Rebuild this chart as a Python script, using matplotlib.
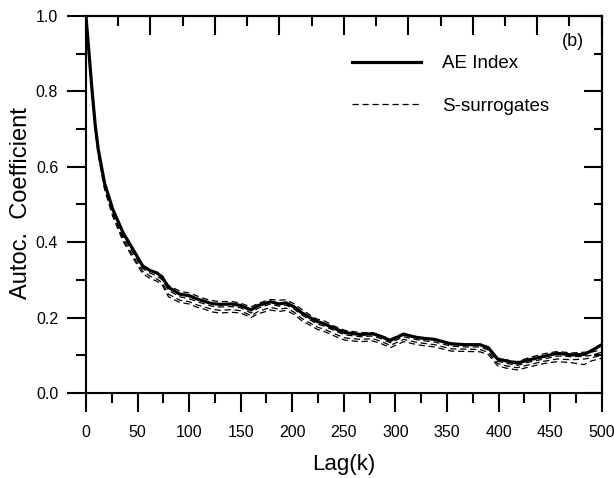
import numpy as np
import matplotlib
matplotlib.use("Agg")
import matplotlib.pyplot as plt
from matplotlib.ticker import MultipleLocator

plt.rcParams['font.family'] = ['Liberation Sans', 'DejaVu Sans']

# lag grid shared by all curves
lags = [0, 3, 6, 9, 12, 18, 26, 36, 46, 55, 62, 69, 74, 80, 91, 100, 107, 115,
        122, 130, 141, 150, 160, 167, 179, 187, 194, 202, 209, 217, 224, 232,
        240, 251, 266, 278, 286, 295, 308, 316, 323, 338, 354, 369, 382, 390,
        399, 407, 418, 430, 444, 457, 471, 483, 490, 500]

ae_index = [1.0, 0.90, 0.80, 0.71, 0.645, 0.557, 0.487, 0.425, 0.379, 0.337,
            0.325, 0.318, 0.307, 0.28, 0.262, 0.258, 0.25, 0.243, 0.237, 0.235,
            0.236, 0.232, 0.22, 0.232, 0.242, 0.236, 0.239, 0.228, 0.213, 0.2,
            0.19, 0.182, 0.172, 0.16, 0.155, 0.157, 0.15, 0.139, 0.156, 0.15,
            0.146, 0.142, 0.13, 0.128, 0.128, 0.12, 0.09, 0.085, 0.079, 0.088,
            0.097, 0.105, 0.101, 0.102, 0.112, 0.128]

surr_1 = [1.0, 0.90, 0.80, 0.71, 0.645, 0.555, 0.485, 0.42, 0.375, 0.336,
          0.324, 0.32, 0.31, 0.285, 0.27, 0.265, 0.258, 0.25, 0.245, 0.242,
          0.243, 0.238, 0.228, 0.238, 0.248, 0.246, 0.247, 0.236, 0.222, 0.207,
          0.196, 0.19, 0.178, 0.166, 0.16, 0.16, 0.152, 0.143, 0.158, 0.152,
          0.148, 0.143, 0.132, 0.13, 0.127, 0.118, 0.092, 0.088, 0.083, 0.094,
          0.104, 0.11, 0.106, 0.108, 0.108, 0.115]

surr_2 = [1.0, 0.898, 0.797, 0.707, 0.64, 0.55, 0.48, 0.415, 0.37, 0.33,
          0.318, 0.31, 0.3, 0.272, 0.255, 0.25, 0.243, 0.236, 0.23, 0.228,
          0.229, 0.226, 0.212, 0.225, 0.236, 0.23, 0.233, 0.222, 0.207, 0.194,
          0.183, 0.176, 0.166, 0.154, 0.149, 0.151, 0.144, 0.133, 0.149, 0.144,
          0.14, 0.135, 0.124, 0.122, 0.122, 0.114, 0.084, 0.079, 0.073, 0.082,
          0.09, 0.098, 0.096, 0.097, 0.1, 0.108]

surr_3 = [1.0, 0.895, 0.793, 0.702, 0.634, 0.545, 0.474, 0.408, 0.362, 0.323,
          0.31, 0.302, 0.292, 0.262, 0.246, 0.242, 0.234, 0.228, 0.222, 0.219,
          0.221, 0.218, 0.205, 0.216, 0.227, 0.222, 0.225, 0.214, 0.198, 0.186,
          0.175, 0.168, 0.158, 0.146, 0.142, 0.144, 0.137, 0.126, 0.142, 0.137,
          0.133, 0.128, 0.117, 0.116, 0.115, 0.108, 0.078, 0.072, 0.067, 0.075,
          0.084, 0.09, 0.088, 0.09, 0.093, 0.1]

surr_4 = [1.0, 0.892, 0.79, 0.698, 0.63, 0.54, 0.468, 0.402, 0.356, 0.316,
          0.304, 0.296, 0.286, 0.255, 0.24, 0.236, 0.228, 0.222, 0.215, 0.212,
          0.214, 0.212, 0.2, 0.21, 0.22, 0.216, 0.219, 0.208, 0.192, 0.18,
          0.169, 0.162, 0.152, 0.14, 0.136, 0.138, 0.131, 0.12, 0.136, 0.131,
          0.127, 0.122, 0.111, 0.11, 0.109, 0.102, 0.072, 0.066, 0.061, 0.069,
          0.078, 0.083, 0.08, 0.075, 0.085, 0.092]

surrogates = [surr_1, surr_2, surr_3, surr_4]

fig = plt.figure(figsize=(6.14, 4.78), dpi=100)
ax = fig.add_axes([0.140, 0.178, 0.840, 0.7885])

for i, s in enumerate(surrogates):
    ax.plot(lags, s, color='black', lw=0.9, ls=(0, (5, 3)),
            label='S-surrogates' if i == 0 else None, zorder=2)
ax.plot(lags, ae_index, color='black', lw=2.3, label='AE Index', zorder=3)

ax.set_xlim(0, 500)
ax.set_ylim(0, 1.0)

for sp in ax.spines.values():
    sp.set_linewidth(1.5)

# bottom / left: outward ticks with labels
ax.xaxis.set_major_locator(MultipleLocator(50))
ax.xaxis.set_minor_locator(MultipleLocator(25))
ax.yaxis.set_major_locator(MultipleLocator(0.2))
ax.yaxis.set_minor_locator(MultipleLocator(0.1))
ax.set_yticks([0, 0.2, 0.4, 0.6, 0.8, 1.0])
ax.set_yticklabels(['0.0', '0.2', '0.4', '0.6', '0.8', '1.0'])
ax.tick_params(axis='both', which='major', direction='out', length=14,
               width=1.5, labelsize=11.5)
ax.tick_params(axis='both', which='minor', direction='out', length=7,
               width=1.5)
ax.tick_params(axis='x', which='major', pad=9)
ax.tick_params(axis='y', which='major', pad=6)

# right: inward ticks, no labels
ry = ax.secondary_yaxis('right')
ry.yaxis.set_major_locator(MultipleLocator(0.2))
ry.yaxis.set_minor_locator(MultipleLocator(0.1))
ry.tick_params(which='major', direction='in', length=13, width=1.5,
               labelright=False)
ry.tick_params(which='minor', direction='in', length=6, width=1.5)
ry.spines['right'].set_linewidth(1.5)

# top: inward ticks on a 62.5 spacing, no labels
tx = ax.secondary_xaxis('top')
tx.xaxis.set_major_locator(MultipleLocator(62.5))
tx.xaxis.set_minor_locator(MultipleLocator(31.25))
tx.tick_params(which='major', direction='in', length=14, width=1.5,
               labeltop=False)
tx.tick_params(which='minor', direction='in', length=7, width=1.5)
tx.spines['top'].set_linewidth(1.5)

ax.set_xlabel('Lag(k)', fontsize=16)
ax.xaxis.set_label_coords(0.5, -0.163)
ax.set_ylabel('Autoc.  Coefficient', fontsize=17)
ax.yaxis.set_label_coords(-0.105, 0.504)

fig.text(573 / 614, 1 - 42 / 478, '(b)', fontsize=13, ha='center',
         va='center')

handles, labels = ax.get_legend_handles_labels()
ax.legend(handles[::-1], labels[::-1], loc='center left',
          bbox_to_anchor=(352 / 614, 1 - 85 / 478),
          bbox_transform=fig.transFigure, frameon=False, fontsize=13.5,
          handlelength=3.7, handletextpad=1.1, labelspacing=1.35,
          borderpad=0, borderaxespad=0)

fig.savefig('out.png', dpi=100)
